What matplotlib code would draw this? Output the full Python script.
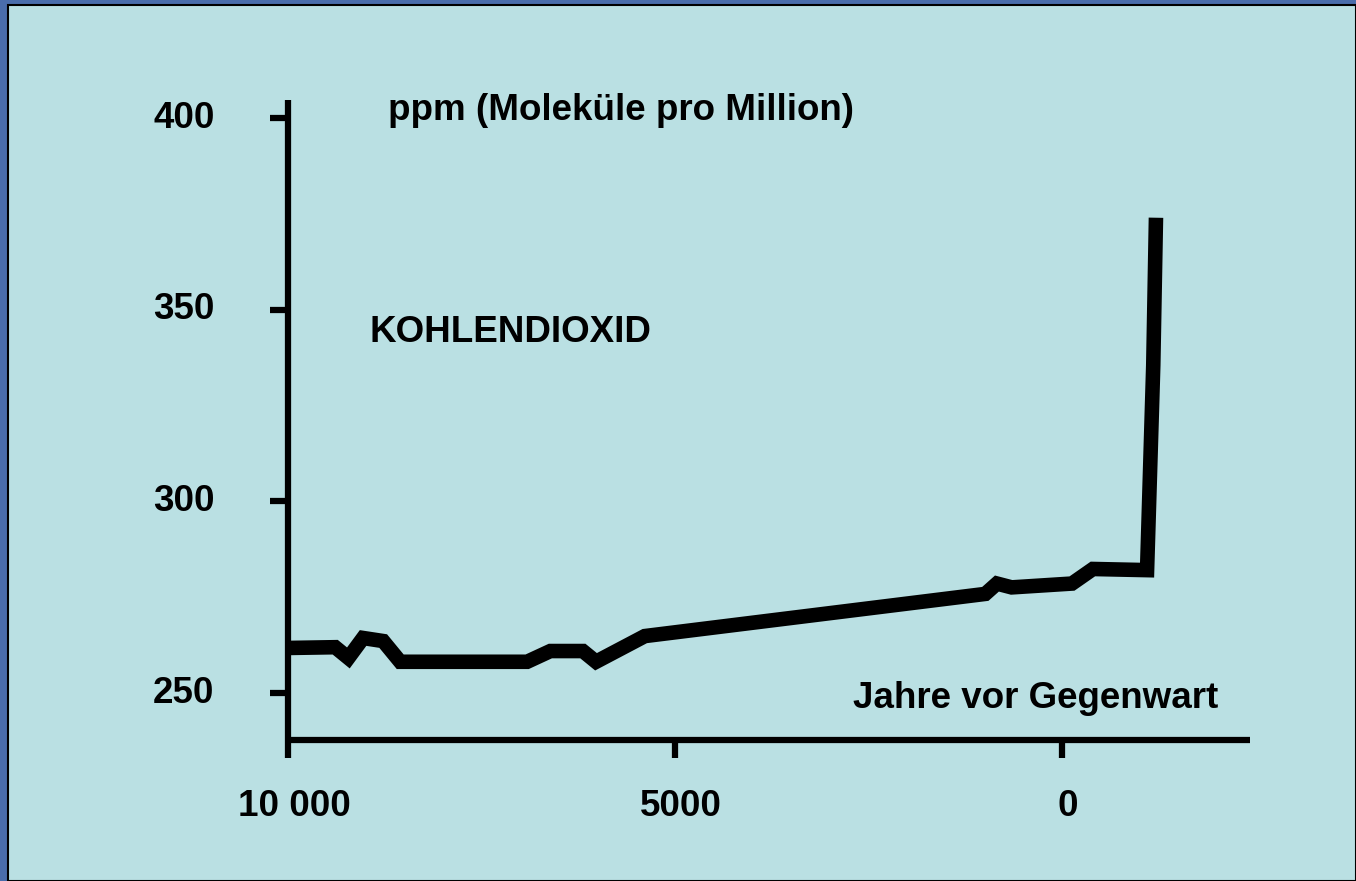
import numpy as np
import matplotlib
matplotlib.use("Agg")
import matplotlib.pyplot as plt
from matplotlib.patches import Rectangle
from matplotlib.transforms import ScaledTranslation

# CO2 concentration, years before present vs ppm
years = [10000, 9390, 9220, 9030, 8770, 8550, 6910, 6610, 6190, 6020, 5390,
         990, 840, 650, -130, -400, -1100, -1180, -1215]
ppm = [261.8, 262.0, 259.2, 264.4, 263.6, 258.2, 258.2, 261.0, 261.0, 258.2, 264.9,
       275.9, 278.6, 277.6, 278.6, 282.4, 282.1, 335.5, 374.0]

xticks = [10000, 5000, 0]
xticklabels = ["10 000", "5000", "0"]
yticks = [250, 300, 350, 400]
yticklabels = ["250", "300", "350", "400"]

W, H = 1356, 881
FS = 26.5
bg = "#bae0e3"
plt.rcParams['font.family'] = ['Liberation Sans', 'DejaVu Sans']
fig = plt.figure(figsize=(W / 100, H / 100), dpi=100, facecolor="#4a6dab")

# slide panel
fig.patches.append(Rectangle((8 / W, 0), 1 - 8 / W, 1 - 5 / H, transform=fig.transFigure,
                             facecolor=bg, edgecolor="black", linewidth=1.5, zorder=0))

ax = fig.add_axes([288 / W, (H - 740) / H, (1250 - 288) / W, (740 - 100) / H])
ax.set_zorder(3)
ax.patch.set_alpha(0)
ax.plot(years, ppm, color="black", linewidth=10.5, solid_joinstyle="miter",
        solid_capstyle="butt", clip_on=False)

ax.set_xlim(10000, -2430)
ax.set_ylim(237.8, 404.7)
for s in ["top", "right"]:
    ax.spines[s].set_visible(False)
for s in ["left", "bottom"]:
    ax.spines[s].set_linewidth(4.5)
    ax.spines[s].set_capstyle("butt")

ax.set_xticks(xticks)
ax.set_xticklabels(xticklabels, fontsize=FS, fontweight="bold")
ax.set_yticks(yticks)
ax.set_yticklabels(yticklabels, fontsize=FS, fontweight="bold")
ax.tick_params(axis="x", length=13, width=4.5, pad=22)
ax.tick_params(axis="y", length=13, width=4.5, pad=40)
for lab in ax.get_xticklabels():
    lab.set_transform(lab.get_transform() + ScaledTranslation(6 / 100, 0, fig.dpi_scale_trans))
for lab in ax.get_yticklabels():
    lab.set_transform(lab.get_transform() + ScaledTranslation(0, 4 / 100, fig.dpi_scale_trans))

fig.text(388 / W, 1 - 110 / H, "ppm (Moleküle pro Million)", fontsize=FS,
         fontweight="bold", va="center", ha="left")
fig.text(370 / W, 1 - 333 / H, "KOHLENDIOXID", fontsize=FS,
         fontweight="bold", va="center", ha="left")
fig.text(1218 / W, 1 - 699 / H, "Jahre vor Gegenwart", fontsize=FS,
         fontweight="bold", va="center", ha="right")

fig.savefig("out.png", dpi=100, facecolor=fig.get_facecolor())
